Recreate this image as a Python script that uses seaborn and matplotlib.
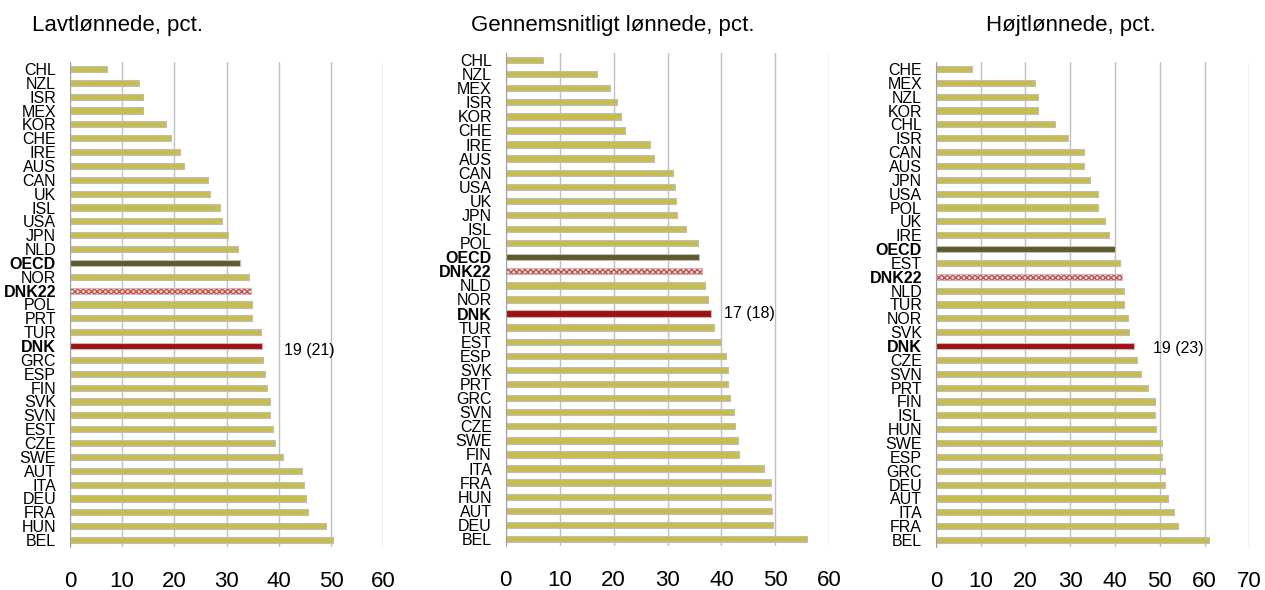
import numpy as np
import matplotlib
matplotlib.use('Agg')
import matplotlib.pyplot as plt
import seaborn as sns
import pandas as pd

# Lavtlønnede
countries_low = ['CHL', 'NZL', 'ISR', 'MEX', 'KOR', 'CHE', 'IRE', 'AUS', 'CAN', 'UK', 'ISL', 'USA',
                 'JPN', 'NLD', 'OECD', 'NOR', 'DNK22', 'POL', 'PRT', 'TUR', 'DNK', 'GRC', 'ESP',
                 'FIN', 'SVK', 'SVN', 'EST', 'CZE', 'SWE', 'AUT', 'ITA', 'DEU', 'FRA', 'HUN', 'BEL']
values_low = [7.0, 13.3, 13.9, 13.9, 18.3, 19.3, 21.0, 21.8, 26.4, 26.9, 28.7, 29.2,
              30.2, 32.1, 32.5, 34.2, 34.6, 34.8, 34.8, 36.5, 36.7, 36.9, 37.3,
              37.7, 38.4, 38.4, 38.8, 39.3, 40.7, 44.5, 44.8, 45.2, 45.5, 49.0, 50.3]

# Gennemsnitligt lønnede
countries_mid = ['CHL', 'NZL', 'MEX', 'ISR', 'KOR', 'CHE', 'IRE', 'AUS', 'CAN', 'USA', 'UK', 'JPN',
                 'ISL', 'POL', 'OECD', 'DNK22', 'NLD', 'NOR', 'DNK', 'TUR', 'EST', 'ESP', 'SVK',
                 'PRT', 'GRC', 'SVN', 'CZE', 'SWE', 'FIN', 'ITA', 'FRA', 'HUN', 'AUT', 'DEU', 'BEL']
values_mid = [6.9, 16.9, 19.3, 20.6, 21.4, 22.1, 26.7, 27.4, 31.1, 31.3, 31.5, 31.7,
              33.4, 35.6, 35.9, 36.3, 36.9, 37.5, 38.1, 38.6, 40.0, 40.8, 41.2,
              41.2, 41.5, 42.3, 42.5, 43.1, 43.3, 47.9, 49.1, 49.1, 49.3, 49.5, 55.8]

# Højtlønnede
countries_high = ['CHE', 'MEX', 'NZL', 'KOR', 'CHL', 'ISR', 'CAN', 'AUS', 'JPN', 'USA', 'POL', 'UK',
                  'IRE', 'OECD', 'EST', 'DNK22', 'NLD', 'TUR', 'NOR', 'SVK', 'DNK', 'CZE', 'SVN',
                  'PRT', 'FIN', 'ISL', 'HUN', 'SWE', 'ESP', 'GRC', 'DEU', 'AUT', 'ITA', 'FRA', 'BEL']
values_high = [8.0, 22.2, 22.9, 22.9, 26.7, 29.5, 33.0, 33.0, 34.3, 36.3, 36.3, 37.7,
               38.6, 40.1, 41.0, 41.6, 41.9, 42.1, 43.0, 43.2, 44.2, 44.8, 45.9,
               47.3, 49.0, 49.0, 49.2, 50.6, 50.6, 51.2, 51.2, 51.9, 53.1, 54.1, 61.0]

titles = ['Lavtlønnede, pct.', 'Gennemsnitligt lønnede, pct.', 'Højtlønnede, pct.']
dnk_labels = ['19 (21)', '17 (18)', '19 (23)']
xmax = [60, 60, 70]

c_bar = '#C6BD50'
c_oecd = '#5E5A2C'
c_dnk = '#A30E12'
c_grid = '#C0C0C0'

sns.set_style('white')
plt.rcParams['font.family'] = ['Liberation Sans', 'DejaVu Sans']
plt.rcParams['text.color'] = 'black'
plt.rcParams['hatch.linewidth'] = 0.9


def panel(ax, countries, values, top, label, label_x, label_dy):
    df = pd.DataFrame({'land': countries, 'pct': values})
    pal = {c: c_bar for c in countries}
    pal['OECD'] = c_oecd
    pal['DNK'] = c_dnk
    pal['DNK22'] = '#F3D2D2'
    sns.barplot(data=df, x='pct', y='land', hue='land', palette=pal, legend=False,
                orient='h', width=0.45, saturation=1, ax=ax,
                edgecolor='#BDBDBD', linewidth=0.8)
    i22 = countries.index('DNK22')
    for p in ax.patches:
        yc = p.get_y() + p.get_height() / 2
        if round(yc) == i22:
            p.set_hatch('xxxxxx')
            p.set_edgecolor('#C04848')
            p.set_linewidth(0)
            ax.barh(i22, values[i22], height=0.45, facecolor='none', edgecolor='#BDBDBD', linewidth=0.8)

    ax.set_xlim(0, top)
    ax.set_ylim(len(countries) - 0.5, -0.5)
    ax.set_xticks(np.arange(0, top + 1, 10))
    ax.set_yticks(np.arange(-0.5, len(countries), 1), minor=True)
    ax.xaxis.grid(True, color=c_grid, linewidth=1)
    ax.set_axisbelow(True)
    ax.set_xlabel('')
    ax.set_ylabel('')
    for s in ['top', 'right', 'bottom']:
        ax.spines[s].set_visible(False)
    ax.spines['left'].set_color('#A0A0A0')
    ax.tick_params(axis='x', length=0, labelsize=16, pad=17, labelcolor='black')
    ax.tick_params(axis='y', which='major', length=0, labelsize=11.5, pad=10, labelcolor='black')
    ax.tick_params(axis='y', which='minor', length=4, color='#A0A0A0', width=0.8)
    for t in ax.get_yticklabels():
        if t.get_text() in ('OECD', 'DNK22', 'DNK'):
            t.set_fontweight('bold')
    idk = countries.index('DNK')
    ax.text(label_x, idk + label_dy, label, fontsize=11.5, va='center', ha='left', color='black')


fig = plt.figure(figsize=(12.65, 5.9), dpi=100)
ax1 = fig.add_axes([0.0553, 0.0729, 0.2477, 0.822])
ax2 = fig.add_axes([0.3998, 0.0746, 0.2558, 0.8356])
ax3 = fig.add_axes([0.7399, 0.0729, 0.2477, 0.822])

panel(ax1, countries_low, values_low, xmax[0], dnk_labels[0], 40.9, 0.35)
panel(ax2, countries_mid, values_mid, xmax[1], dnk_labels[1], 40.5, 0.0)
panel(ax3, countries_high, values_high, xmax[2], dnk_labels[2], 48.4, 0.2)

fig.text(0.0929, 0.9576, titles[0], fontsize=16, ha='center', va='center')
fig.text(0.4846, 0.9576, titles[1], fontsize=16, ha='center', va='center')
fig.text(0.8466, 0.9576, titles[2], fontsize=16, ha='center', va='center')

fig.savefig('out.png', dpi=100)
